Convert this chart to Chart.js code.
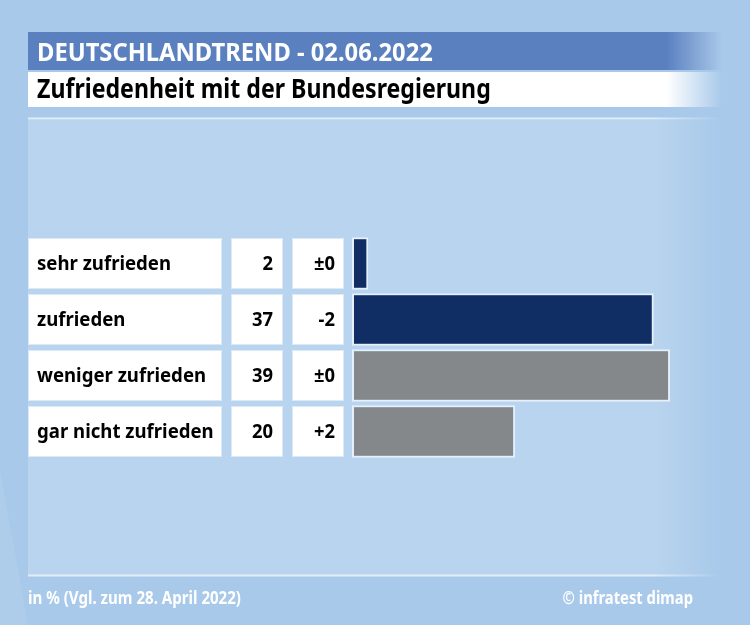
<!DOCTYPE html>
<html>
<head>
<meta charset="utf-8">
<script src="https://cdn.jsdelivr.net/npm/chart.js@4/dist/chart.umd.min.js"></script>
<style>
  html, body { margin: 0; padding: 0; background: #a8c9ea; }
  #chart { display: block; }
</style>
</head>
<body>
<canvas id="chart" width="750" height="625"></canvas>
<script>
const categories = ["sehr zufrieden", "zufrieden", "weniger zufrieden", "gar nicht zufrieden"];
const values = [2, 37, 39, 20];
const changes = ["±0", "-2", "±0", "+2"];
const barColors = ["#102e63", "#102e63", "#85888b", "#85888b"];

const headline = "DEUTSCHLANDTREND - 02.06.2022";
const subtitle = "Zufriedenheit mit der Bundesregierung";
const footLeft = "in % (Vgl. zum 28. April 2022)";
const footRight = "© infratest dimap";

const FONT = '"Noto Sans", "Open Sans", sans-serif';

// draws text squeezed horizontally (the original uses a condensed face)
function squeezed(ctx, text, x, y, font, sx, align) {
  ctx.save();
  ctx.font = font;
  ctx.textAlign = align || "left";
  ctx.translate(x, y);
  ctx.scale(sx, 1);
  ctx.fillText(text, 0, 0);
  ctx.restore();
}

const backdrop = {
  id: "backdrop",
  beforeDraw(chart) {
    const ctx = chart.ctx;
    ctx.save();
    ctx.fillStyle = "#a8c9ea";
    ctx.fillRect(0, 0, 750, 625);

    // faint diagonal light area bottom-left
    ctx.fillStyle = "rgba(255,255,255,0.08)";
    ctx.beginPath();
    ctx.moveTo(0, 470);
    ctx.lineTo(28, 625);
    ctx.lineTo(0, 625);
    ctx.closePath();
    ctx.fill();

    // inner panel
    let g = ctx.createLinearGradient(28, 0, 722, 0);
    g.addColorStop(0, "#b9d4ee");
    g.addColorStop(0.9, "#b9d4ee");
    g.addColorStop(1, "rgba(185,212,238,0)");
    ctx.fillStyle = g;
    ctx.fillRect(28, 120, 694, 455);

    // separator lines
    g = ctx.createLinearGradient(28, 0, 722, 0);
    g.addColorStop(0, "rgba(225,237,249,1)");
    g.addColorStop(0.9, "rgba(225,237,249,1)");
    g.addColorStop(1, "rgba(225,237,249,0)");
    ctx.fillStyle = g;
    ctx.fillRect(28, 117.5, 694, 2);
    ctx.fillRect(28, 574.5, 694, 2);

    // header bands
    g = ctx.createLinearGradient(28, 0, 722, 0);
    g.addColorStop(0, "#5b80c0");
    g.addColorStop(0.92, "#5b80c0");
    g.addColorStop(1, "rgba(91,128,192,0)");
    ctx.fillStyle = g;
    ctx.fillRect(28, 32, 694, 38);

    g = ctx.createLinearGradient(28, 0, 722, 0);
    g.addColorStop(0, "#ffffff");
    g.addColorStop(0.92, "#ffffff");
    g.addColorStop(1, "rgba(255,255,255,0)");
    ctx.fillStyle = g;
    ctx.fillRect(28, 72, 694, 35);

    ctx.fillStyle = "#ffffff";
    ctx.textBaseline = "alphabetic";
    squeezed(ctx, headline, 37, 61, "bold 25px " + FONT, 0.95);
    ctx.fillStyle = "#000000";
    squeezed(ctx, subtitle, 37, 98, "bold 26px " + FONT, 0.89);

    // footer
    ctx.fillStyle = "#ffffff";
    squeezed(ctx, footLeft, 28, 604, "bold 17px " + FONT, 0.886);
    squeezed(ctx, footRight, 693, 604, "bold 17px " + FONT, 0.87, "right");

    // table boxes and texts, positioned from the y scale
    const y = chart.scales.y;
    ctx.textBaseline = "middle";
    categories.forEach((cat, i) => {
      const cy = y.getPixelForValue(i);
      const top = cy - 25.5;
      ctx.fillStyle = "#ffffff";
      ctx.strokeStyle = "rgba(220,233,247,1)";
      ctx.lineWidth = 1;
      [[28, 194], [231, 52], [292, 52]].forEach(([bx, bw]) => {
        ctx.fillRect(bx, top, bw, 51);
        ctx.strokeRect(bx + 0.5, top + 0.5, bw - 1, 50);
      });
      ctx.fillStyle = "#000000";
      squeezed(ctx, cat, 37, cy + 1, "bold 20px " + FONT, 0.93);
      squeezed(ctx, String(values[i]), 273, cy + 1, "bold 20px " + FONT, 0.92, "right");
      squeezed(ctx, changes[i], 335, cy + 1, "bold 20px " + FONT, 0.92, "right");
    });
    ctx.restore();
  }
};

new Chart(document.getElementById("chart").getContext("2d"), {
  type: "bar",
  data: {
    labels: categories,
    datasets: [{
      data: values,
      backgroundColor: barColors,
      borderColor: "rgba(232,241,251,0.95)",
      borderWidth: 2,
      borderSkipped: false,
      barPercentage: 1,
      categoryPercentage: 0.94
    }]
  },
  options: {
    indexAxis: "y",
    responsive: false,
    animation: false,
    layout: { padding: { left: 352, right: 31, top: 235.5, bottom: 165.5 } },
    scales: {
      x: { display: false, min: 0, max: 45 },
      y: { display: false }
    },
    plugins: {
      legend: { display: false },
      tooltip: { enabled: false }
    }
  },
  plugins: [backdrop]
});
</script>
</body>
</html>
